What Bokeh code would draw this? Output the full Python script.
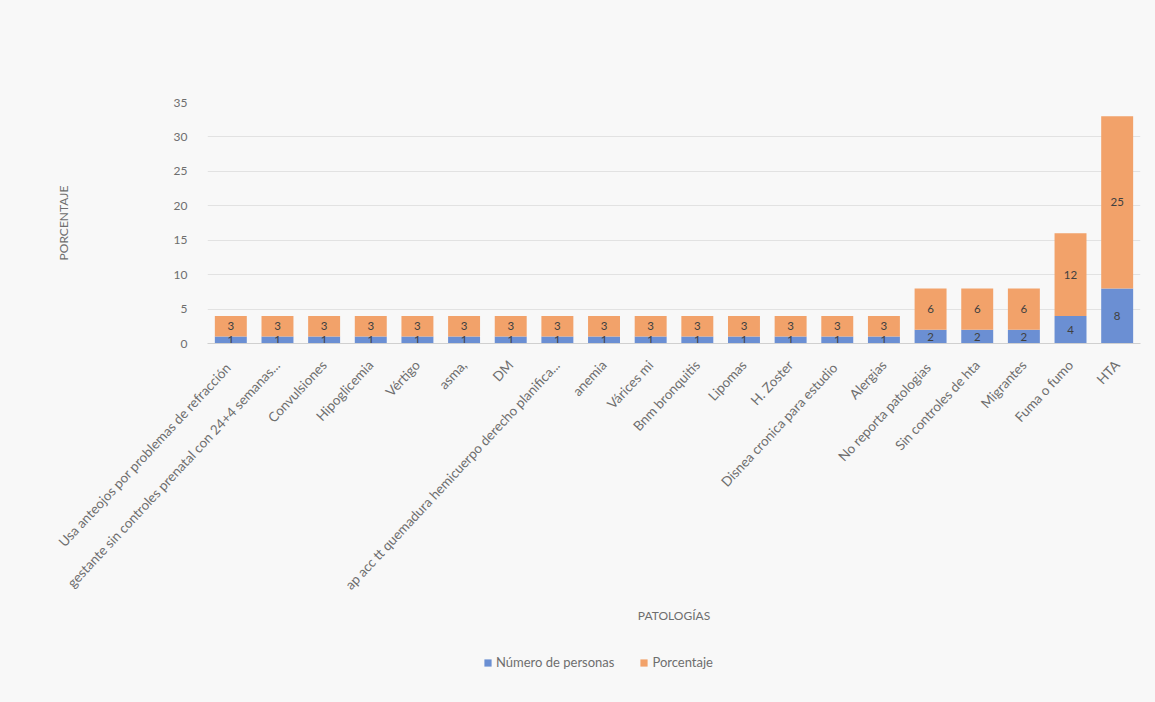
import math
from bokeh.plotting import figure
from bokeh.layouts import column
from bokeh.models import ColumnDataSource, Legend, LegendItem, Title, FactorRange
from bokeh.core.properties import value
from bokeh.embed import file_html
from bokeh.resources import INLINE

categories = [
    "Usa anteojos  por problemas de refracción",
    "gestante sin controles prenatal con 24+4 semanas...",
    "Convulsiones",
    "Hipoglicemia",
    "Vértigo",
    "asma,",
    "DM",
    "ap acc tt quemadura hemicuerpo derecho planifica...",
    "anemia",
    "Várices mi",
    "Bnm bronquitis",
    "Lipomas",
    "H. Zoster",
    "Disnea cronica para  estudio",
    "Alergias",
    "No reporta  patologias",
    "Sin controles de hta",
    "Migrantes",
    "Fuma o fumo",
    "HTA",
]
personas = [1, 1, 1, 1, 1, 1, 1, 1, 1, 1, 1, 1, 1, 1, 1, 2, 2, 2, 4, 8]
porcentaje = [3, 3, 3, 3, 3, 3, 3, 3, 3, 3, 3, 3, 3, 3, 3, 6, 6, 6, 12, 25]
series_names = ["Número de personas", "Porcentaje"]
y_ticks = [0, 5, 10, 15, 20, 25, 30, 35]

BLUE = "#6b8fd3"
ORANGE = "#f2a26a"
GRAY = "#6e6e6e"
BG = "#f8f8f8"
FONT = "Lato"

top = [a + b for a, b in zip(personas, porcentaje)]
src = ColumnDataSource(dict(
    cat=categories,
    personas=personas,
    porcentaje=porcentaje,
    top=top,
    y_p=[a / 2 for a in personas],
    y_o=[a + b / 2 for a, b in zip(personas, porcentaje)],
    t_p=[str(a) for a in personas],
    t_o=[str(b) for b in porcentaje],
))

p = figure(
    width=1155, height=627,
    x_range=FactorRange(*categories, range_padding=0),
    y_range=(0, 35),
    output_backend="svg", toolbar_location=None,
    min_border_left=207, min_border_right=15, min_border_top=102, min_border_bottom=0,
)
p.background_fill_color = BG
p.border_fill_color = BG
p.outline_line_color = None

r1 = p.vbar(x="cat", bottom=0, top="personas", width=0.685, source=src,
            fill_color=BLUE, line_color=None)
r2 = p.vbar(x="cat", bottom="personas", top="top", width=0.685, source=src,
            fill_color=ORANGE, line_color=None)

p.text(x="cat", y="y_p", text="t_p", source=src, text_align="center",
       text_baseline="middle", text_font=value(FONT), text_font_size="11.5px",
       text_color="#404040")
p.text(x="cat", y="y_o", text="t_o", source=src, text_align="center",
       text_baseline="middle", text_font=value(FONT), text_font_size="11.5px",
       text_color="#404040")

p.yaxis.ticker = y_ticks
p.yaxis.axis_line_color = None
p.yaxis.major_tick_line_color = None
p.yaxis.minor_tick_line_color = None
p.yaxis.major_label_text_font = FONT
p.yaxis.major_label_text_font_size = "12px"
p.yaxis.major_label_text_color = GRAY
p.yaxis.major_label_standoff = 14
p.yaxis.axis_label = "PORCENTAJE"
p.yaxis.axis_label_standoff = 100
p.yaxis.axis_label_text_font = FONT
p.yaxis.axis_label_text_font_size = "12px"
p.yaxis.axis_label_text_font_style = "normal"
p.yaxis.axis_label_text_color = GRAY

p.xaxis.axis_line_color = "#d0d0d0"
p.xaxis.major_tick_line_color = None
p.xaxis.minor_tick_line_color = None
p.xaxis.major_label_orientation = 0.82
p.xaxis.major_label_text_font = FONT
p.xaxis.major_label_text_font_size = "13.5px"
p.xaxis.major_label_text_color = GRAY
p.xaxis.major_label_standoff = 13

p.xgrid.grid_line_color = None
p.ygrid.grid_line_color = "#e2e2e2"

p.add_layout(Title(text="PATOLOGÍAS", align="center", standoff=9,
                   text_font=FONT, text_font_size="12px", text_font_style="normal",
                   text_color=GRAY), "below")

# legend strip under the chart
lf = figure(width=1155, height=75, x_range=(0, 1), y_range=(0, 1),
            x_axis_type=None, y_axis_type=None,
            output_backend="svg", toolbar_location=None,
            min_border_left=0, min_border_right=0, min_border_top=0, min_border_bottom=0)
lf.background_fill_alpha = 0
lf.border_fill_color = BG
lf.outline_line_color = None
lf.xgrid.visible = False
lf.ygrid.visible = False
d1 = lf.vbar(x=[-10], top=[-10], width=0.1, fill_color=BLUE, line_color=None)
d2 = lf.vbar(x=[-10], top=[-10], width=0.1, fill_color=ORANGE, line_color=None)
legend = Legend(items=[LegendItem(label=series_names[0], renderers=[d1]),
                       LegendItem(label=series_names[1], renderers=[d2])],
                orientation="horizontal", location=(276, 32),
                background_fill_alpha=0, border_line_color=None, padding=6,
                label_text_font=FONT, label_text_font_size="13px",
                label_text_color=GRAY, glyph_width=9, glyph_height=9,
                spacing=25, label_standoff=4)
lf.add_layout(legend, "center")

layout = column(p, lf, spacing=0, styles={"background-color": BG})
open("out.html", "w").write(file_html(layout, INLINE))
